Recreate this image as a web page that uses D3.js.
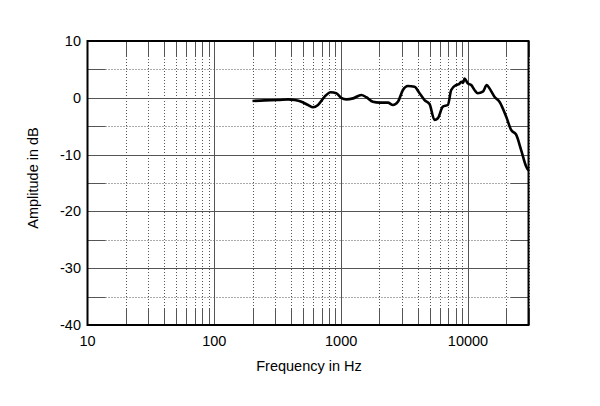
<!DOCTYPE html>
<html>
<head>
<meta charset="utf-8">
<script src="https://cdn.jsdelivr.net/npm/d3@7"></script>
<style>
  body { margin: 0; background: #fff; }
  text { font-family: "Liberation Sans", Arial, sans-serif; fill: #000; }
</style>
</head>
<body>
<div id="main"></div>
<script>
// response curve
var freqs = [200, 250, 318, 381, 430, 486, 548, 600, 657, 741, 826, 916, 1000, 1099, 1240, 1442, 1578,
  1779, 2009, 2337, 2560, 2801, 3068, 3357, 3790, 4150, 4542, 4975, 5446, 5785, 6336, 6936, 7375,
  8074, 8500, 8843, 9150, 9383, 9970, 10600, 11250, 11950, 13090, 14070, 14760, 16170, 17710,
  19990, 21890, 23970, 26250, 28750, 30000];
var amps = [-0.55, -0.45, -0.4, -0.27, -0.4, -0.7, -1.27, -1.67, -1.27, 0.2, 0.97, 0.8, 0.0, -0.27, -0.1, 0.5, 0.1,
  -0.7, -0.85, -0.85, -1.27, -0.7, 1.37, 2.07, 1.95, 0.8, -0.4, -1.1, -3.9, -3.6, -1.56, -1.27, 1.37,
  2.25, 2.4, 2.83, 2.6, 3.4, 2.55, 2.25, 1.37, 0.8, 1.07, 2.25, 1.67, 0.2, -0.7,
  -3.3, -5.66, -6.5, -9.2, -12.1, -12.8];

var xTicks = [10, 100, 1000, 10000];
var yTicks = [10, 0, -10, -20, -30, -40];

var width = 600, height = 406;
var fs = 14.5;
var x = d3.scaleLog().domain([10, 30000]).range([87.5, 528.5]);
var y = d3.scaleLinear().domain([-40, 10]).range([325, 41]);

var svg = d3.select('#main').append('svg')
  .attr('width', width).attr('height', height);

// minor log positions
var minorX = [];
[10, 100, 1000, 10000].forEach(function(d) {
  for (var k = 2; k <= 9; k++) if (d * k <= 30000) minorX.push(d * k);
});
var minorY = [5, -5, -15, -25, -35];
var tick = 16;

var grid = svg.append('g');

// dotted minor lines
grid.selectAll('line.mx').data(minorX).enter().append('line')
  .attr('x1', function(d) { return Math.round(x(d)) + 0.5; })
  .attr('x2', function(d) { return Math.round(x(d)) + 0.5; })
  .attr('y1', y(10)).attr('y2', y(-40))
  .attr('stroke', '#555').attr('stroke-dasharray', '1,2');
grid.selectAll('line.my').data(minorY).enter().append('line')
  .attr('y1', function(d) { return Math.round(y(d)) + 0.5; })
  .attr('y2', function(d) { return Math.round(y(d)) + 0.5; })
  .attr('x1', x(10)).attr('x2', x(30000))
  .attr('stroke', '#555').attr('stroke-dasharray', '1,2');

// solid stubs at edges
minorX.forEach(function(d) {
  var px = Math.round(x(d)) + 0.5;
  [[y(10), y(10) + tick], [y(-40) - tick, y(-40)]].forEach(function(s) {
    grid.append('line').attr('x1', px).attr('x2', px).attr('y1', s[0]).attr('y2', s[1])
      .attr('stroke', '#555');
  });
});
minorY.forEach(function(d) {
  var py = Math.round(y(d)) + 0.5;
  [[x(10), x(10) + tick + 2], [x(30000) - tick - 2, x(30000)]].forEach(function(s) {
    grid.append('line').attr('y1', py).attr('y2', py).attr('x1', s[0]).attr('x2', s[1])
      .attr('stroke', '#555');
  });
});

// solid major lines
grid.selectAll('line.Mx').data(xTicks.slice(1)).enter().append('line')
  .attr('x1', function(d) { return Math.round(x(d)) + 0.5; })
  .attr('x2', function(d) { return Math.round(x(d)) + 0.5; })
  .attr('y1', y(10)).attr('y2', y(-40))
  .attr('stroke', '#555');
grid.selectAll('line.My').data(yTicks.slice(1, -1)).enter().append('line')
  .attr('y1', function(d) { return Math.round(y(d)) + 0.5; })
  .attr('y2', function(d) { return Math.round(y(d)) + 0.5; })
  .attr('x1', x(10)).attr('x2', x(30000))
  .attr('stroke', '#555');

// frame
svg.append('rect')
  .attr('x', x(10)).attr('y', y(10))
  .attr('width', x(30000) - x(10)).attr('height', y(-40) - y(10))
  .attr('fill', 'none').attr('stroke', '#000').attr('stroke-width', 2);

// curve
var line = d3.line()
  .x(function(d, i) { return x(freqs[i]); })
  .y(function(d) { return y(d); })
  .curve(d3.curveMonotoneX);

svg.append('path').datum(amps)
  .attr('d', line)
  .attr('fill', 'none').attr('stroke', '#000').attr('stroke-width', 2.6)
  .attr('stroke-linejoin', 'round');

// tick labels
svg.selectAll('text.yt').data(yTicks).enter().append('text')
  .attr('x', 81).attr('y', function(d) { return y(d) + 5; })
  .attr('text-anchor', 'end').attr('font-size', fs)
  .text(function(d) { return d; });

svg.selectAll('text.xt').data(xTicks).enter().append('text')
  .attr('x', function(d) { return x(d); }).attr('y', 346)
  .attr('text-anchor', 'middle').attr('font-size', fs)
  .text(function(d) { return d; });

svg.append('text')
  .attr('x', 309).attr('y', 371)
  .attr('text-anchor', 'middle').attr('font-size', fs)
  .text('Frequency in Hz');

svg.append('text')
  .attr('transform', 'translate(38,178) rotate(-90)')
  .attr('text-anchor', 'middle').attr('font-size', fs)
  .text('Amplitude in dB');
</script>
</body>
</html>
